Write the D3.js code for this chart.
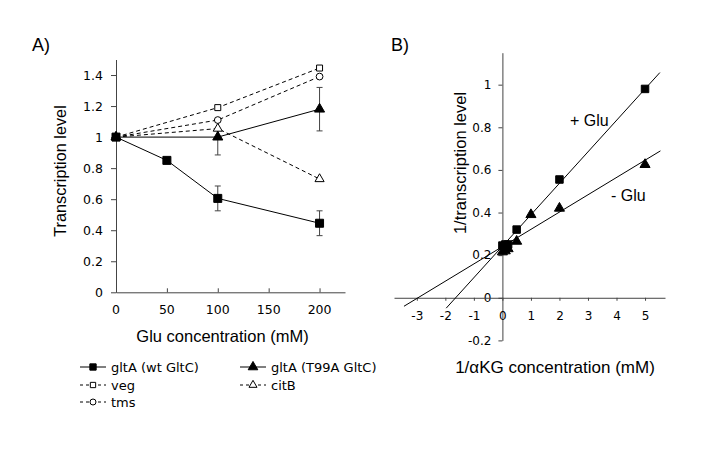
<!DOCTYPE html>
<html><head><meta charset="utf-8">
<script src="https://cdn.jsdelivr.net/npm/d3@7"></script>
<style>body{margin:0;background:#fff}svg{display:block}text{font-family:"DejaVu Sans",Verdana,sans-serif;fill:#000}.ttl{font-family:"Liberation Sans",Arial,sans-serif}</style>
</head><body><svg id="c" width="712" height="451"></svg>
<script>
// ---- Panel A data ----
const gluConc = [0, 50, 100, 200];
const wtGltC = [1, 0.85, 0.605, 0.445];
const wtGltCErr = [null, null, 0.08, 0.08];
const t99aConc = [0, 100, 200];
const t99aGltC = [1, 1.0, 1.18];
const t99aErr = [null, 0.115, 0.14];
const vegConc = [0, 100, 200];
const veg = [1, 1.19, 1.445];
const citBConc = [0, 100, 200];
const citB = [1, 1.055, 0.73];
const tmsConc = [0, 100, 200];
const tms = [1, 1.11, 1.39];
const aXTicks = [0, 50, 100, 150, 200];
const aYTicks = [0, 0.2, 0.4, 0.6, 0.8, 1, 1.2, 1.4];
const legendLabels = ["gltA (wt GltC)", "gltA (T99A GltC)", "veg", "citB", "tms"];

// ---- Panel B data ----
const plusGluX = [0, 0.1, 0.2, 0.5, 2, 5];
const plusGluY = [0.245, 0.25, 0.25, 0.32, 0.555, 0.98];
const minusGluX = [0, 0.1, 0.2, 0.5, 1, 2, 5];
const minusGluY = [0.215, 0.22, 0.23, 0.265, 0.39, 0.42, 0.625];
const plusGluFit = {slope: 0.1476, intercept: 0.242, from: -1.97, to: 5.52};
const minusGluFit = {slope: 0.0811, intercept: 0.240, from: -3.45, to: 5.54};
const bXTicks = [-3, -2, -1, 0, 1, 2, 3, 4, 5];
const bYTicks = [-0.2, 0, 0.2, 0.4, 0.6, 0.8, 1];

const svg = d3.select("#c");
const axisColor = "#444";

function marker(g, type, filled, x, y, size) {
  const s = d3.symbol().type(type).size(size);
  g.append("path").attr("d", s()).attr("transform", `translate(${x},${y})`)
    .attr("fill", filled ? "#000" : "#fff").attr("stroke", "#000").attr("stroke-width", 1);
}
const fmt = d => d < 0 ? "-" + Math.abs(d) : String(d);

// ===== Panel A =====
const ax = d3.scaleLinear().domain([0, 225]).range([116, 345]);
const ay = d3.scaleLinear().domain([0, 1.5]).range([292.3, 59.5]);
const gA = svg.append("g");

const yAxA = gA.append("g").attr("transform", `translate(${ax(0)},0)`)
  .call(d3.axisLeft(ay).tickValues(aYTicks).tickSize(5).tickSizeOuter(0).tickFormat(fmt));
const xAxA = gA.append("g").attr("transform", `translate(0,${ay(0)})`)
  .call(d3.axisTop(ax).tickValues(aXTicks).tickSize(4).tickSizeOuter(0).tickFormat(() => ""));
[yAxA, xAxA].forEach(a => { a.select(".domain").attr("stroke", axisColor); a.selectAll(".tick line").attr("stroke", axisColor); });
yAxA.selectAll("text").attr("font-size", 12.5).attr("x", -13).attr("font-family", "DejaVu Sans");
gA.append("g").selectAll("text").data(aXTicks).join("text")
  .attr("x", d => ax(d)).attr("y", ay(0) + 22).attr("text-anchor", "middle").attr("font-size", 12.5).text(fmt);

gA.append("text").attr("class", "ttl").attr("x", 32).attr("y", 51).attr("font-size", 18).text("A)");
gA.append("text").attr("class", "ttl").attr("transform", `translate(66,171) rotate(-90)`).attr("text-anchor", "middle").attr("font-size", 16.3).text("Transcription level");
gA.append("text").attr("class", "ttl").attr("x", 222.5).attr("y", 342).attr("text-anchor", "middle").attr("font-size", 16.5).text("Glu concentration (mM)");

const lineA = d3.line().x(d => ax(d[0])).y(d => ay(d[1]));
const zip = (xs, ys) => xs.map((x, i) => [x, ys[i]]);
const seriesA = [
  {xs: gluConc, ys: wtGltC, err: wtGltCErr, dash: null, type: d3.symbolSquare, filled: true, size: 64},
  {xs: t99aConc, ys: t99aGltC, err: t99aErr, dash: null, type: d3.symbolTriangle, filled: true, size: 44},
  {xs: vegConc, ys: veg, err: null, dash: "4,3", type: d3.symbolSquare, filled: false, size: 36},
  {xs: citBConc, ys: citB, err: null, dash: "4,3", type: d3.symbolTriangle, filled: false, size: 36},
  {xs: tmsConc, ys: tms, err: null, dash: "4,3", type: d3.symbolCircle, filled: false, size: 36}
];
const order = [2, 4, 3, 1, 0];
order.forEach(i => {
  const s = seriesA[i];
  gA.append("path").attr("d", lineA(zip(s.xs, s.ys))).attr("fill", "none").attr("stroke", "#000")
    .attr("stroke-width", 1).attr("stroke-dasharray", s.dash);
});
order.forEach(i => {
  const s = seriesA[i];
  if (s.err) s.xs.forEach((x, j) => {
    const e = s.err[j]; if (e == null) return;
    const y0 = ay(s.ys[j] - e), y1 = ay(s.ys[j] + e), cx = ax(x);
    gA.append("line").attr("x1", cx).attr("x2", cx).attr("y1", y0).attr("y2", y1).attr("stroke", "#444");
    [y0, y1].forEach(yy => gA.append("line").attr("x1", cx - 3).attr("x2", cx + 3).attr("y1", yy).attr("y2", yy).attr("stroke", "#444"));
  });
});
order.forEach(i => {
  const s = seriesA[i];
  s.xs.forEach((x, j) => marker(gA, s.type, s.filled, ax(x), ay(s.ys[j]), s.size));
});

// legend
const legPos = [[80, 367], [240, 367], [80, 385], [240, 385], [80, 402]];
seriesA.forEach((s, i) => {
  const [lx, ly] = legPos[i];
  gA.append("line").attr("x1", lx).attr("x2", lx + 26).attr("y1", ly).attr("y2", ly)
    .attr("stroke", "#000").attr("stroke-dasharray", s.dash ? "3,3" : null);
  marker(gA, s.type, s.filled, lx + 13, ly, s.filled ? 40 : 28);
  gA.append("text").attr("x", lx + 31).attr("y", ly + 4.5).attr("font-size", 13).text(legendLabels[i]);
});

// ===== Panel B =====
const bx = d3.scaleLinear().domain([-3.8, 5.7]).range([394, 665]);
const by = d3.scaleLinear().domain([-0.2, 1.15]).range([340.4, 52.7]);
const gB = svg.append("g");
const yAxB = gB.append("g").attr("transform", `translate(${bx(0)},0)`)
  .call(d3.axisLeft(by).tickValues(bYTicks).tickSize(4).tickSizeOuter(0).tickFormat(fmt));
const xAxB = gB.append("g").attr("transform", `translate(0,${by(0)})`)
  .call(d3.axisBottom(bx).tickValues(bXTicks).tickSize(3).tickSizeOuter(0).tickFormat(fmt));
[yAxB, xAxB].forEach(a => { a.select(".domain").attr("stroke", axisColor); a.selectAll(".tick line").attr("stroke", axisColor); a.selectAll("text").attr("font-size", 12).attr("font-family", "DejaVu Sans"); });
yAxB.selectAll("text").attr("x", -11);
xAxB.selectAll("text").attr("y", 14);

gB.append("text").attr("class", "ttl").attr("x", 391).attr("y", 51).attr("font-size", 18).text("B)");
gB.append("text").attr("class", "ttl").attr("transform", `translate(466,163) rotate(-90)`).attr("text-anchor", "middle").attr("font-size", 16.5).text("1/transcription level");
gB.append("text").attr("class", "ttl").attr("x", 555).attr("y", 373).attr("text-anchor", "middle").attr("font-size", 17).text("1/αKG concentration (mM)");

const lineB = d3.line().x(d => bx(d[0])).y(d => by(d[1]));
[plusGluFit, minusGluFit].forEach(f => {
  gB.append("path").attr("d", lineB([[f.from, f.intercept + f.slope * f.from], [f.to, f.intercept + f.slope * f.to]]))
    .attr("fill", "none").attr("stroke", "#000").attr("stroke-width", 1);
});
minusGluX.forEach((x, i) => marker(gB, d3.symbolTriangle, true, bx(x), by(minusGluY[i]), 44));
plusGluX.forEach((x, i) => marker(gB, d3.symbolSquare, true, bx(x), by(plusGluY[i]), 56));

gB.append("text").attr("class", "ttl").attr("x", 570).attr("y", 126).attr("font-size", 16).text("+ Glu");
gB.append("text").attr("class", "ttl").attr("x", 611).attr("y", 201).attr("font-size", 16).text("- Glu");
</script></body></html>
